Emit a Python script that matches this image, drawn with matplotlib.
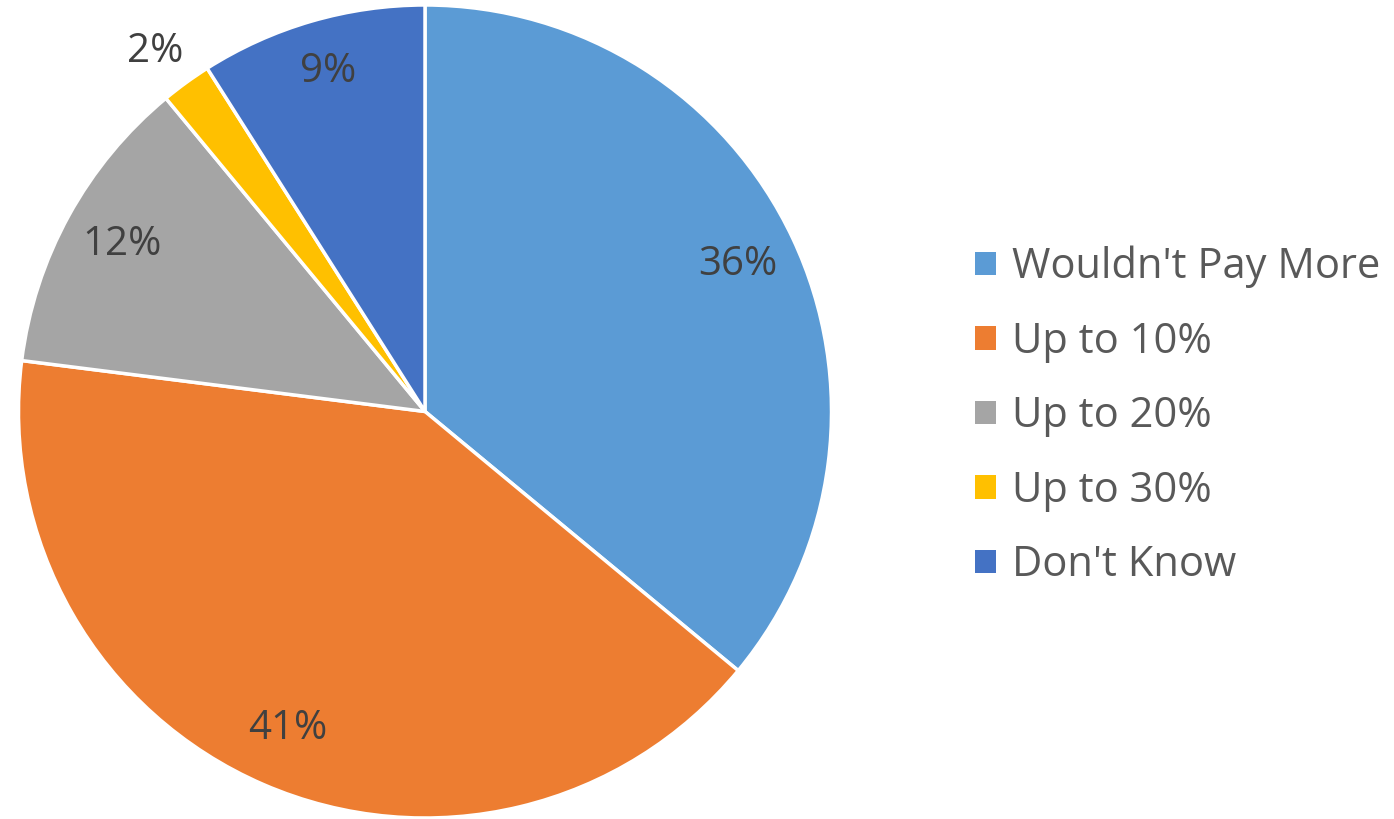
import numpy as np
import matplotlib.pyplot as plt

categories = ["Wouldn't Pay More", "Up to 10%", "Up to 20%", "Up to 30%", "Don't Know"]
values = [36, 41, 12, 2, 9]
colors = ["#5B9BD5", "#ED7D31", "#A5A5A5", "#FFC000", "#4472C4"]

plt.rcParams['font.family'] = ['Open Sans', 'DejaVu Sans']

fig = plt.figure(figsize=(13.94, 8.19), dpi=100)
# pie area: centre ~ (425, 411) px, radius ~ 407 px
ax = fig.add_axes([18 / 1394, 1 / 819, 814 / 1394, 813 / 819])
ax.set_aspect("equal")

wedges, texts, autotexts = ax.pie(
    values,
    colors=colors,
    startangle=90,
    counterclock=False,
    radius=1.0,
    autopct=lambda p: f"{p:.0f}%",
    pctdistance=0.85,
    wedgeprops=dict(edgecolor="white", linewidth=2.5),
    textprops=dict(fontsize=29, color="#404040"),
)
ax.set_xlim(-1.0, 1.0)
ax.set_ylim(-1.0, 1.0)

# the small slice gets its label outside, like the original
for w, t, v in zip(wedges, autotexts, values):
    if v < 5:
        mid = np.deg2rad((w.theta1 + w.theta2) / 2)
        t.set_position((1.13 * np.cos(mid) + 0.0, 1.13 * np.sin(mid) - 0.03))
    elif v < 10:
        x, y = t.get_position()
        t.set_position((x, y + 0.02))

leg = fig.legend(
    wedges, categories,
    loc="center left",
    bbox_to_anchor=(975 / 1394, 1 - 416 / 819),
    frameon=False,
    fontsize=30,
    handlelength=0.5,
    handleheight=0.5,
    handletextpad=0.4,
    labelspacing=0.78,
    borderpad=0,
    borderaxespad=0,
    labelcolor="#595959",
)
for h in leg.legend_handles:
    h.set_edgecolor("none")

fig.savefig("out.png", dpi=100)
